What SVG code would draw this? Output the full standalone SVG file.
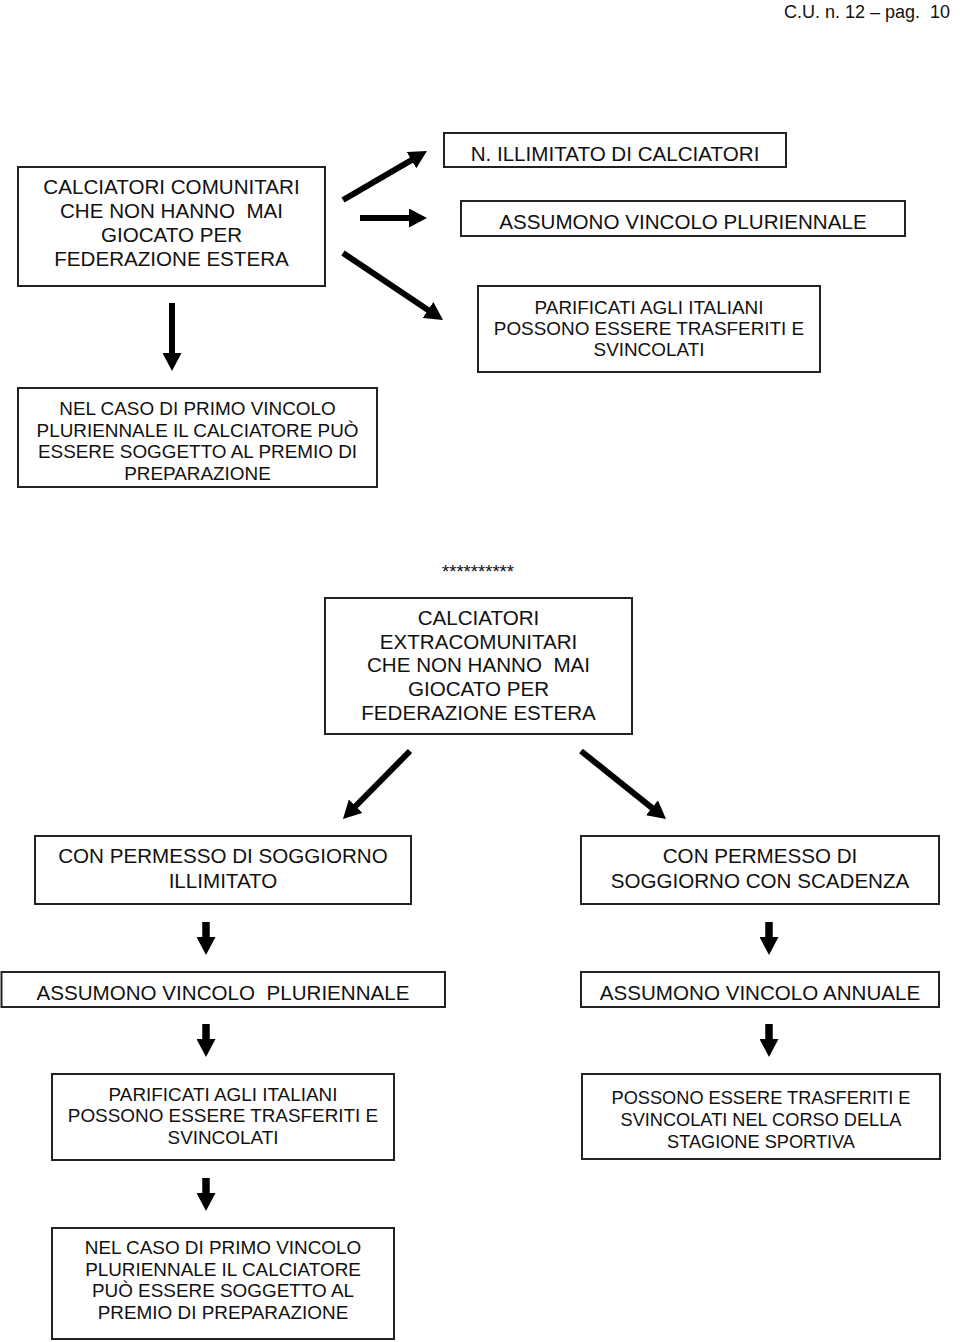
<svg xmlns="http://www.w3.org/2000/svg" width="960" height="1342" viewBox="0 0 960 1342">
  <style>
    .box { fill: #fff; stroke: #222; stroke-width: 2; }
    text { font-family: "Liberation Sans", Arial, sans-serif; fill: #111; text-anchor: middle; white-space: pre; }
    .t21 { font-size: 20.6px; }
    .t19 { font-size: 18.9px; }
    .t18 { font-size: 18.2px; }
    .arr { stroke: #000; fill: none; marker-end: url(#head); }
  </style>
  <defs>
    <marker id="head" markerUnits="userSpaceOnUse" markerWidth="18" markerHeight="19" refX="4" refY="9.5" orient="auto" viewBox="0 0 18 19">
      <path d="M0,0 L18,9.5 L0,19 z" fill="#000"/>
    </marker>
  </defs>
  <rect width="960" height="1342" fill="#fff"/>

  <text x="950" y="18" style="font-size:18px;text-anchor:end">C.U. n. 12 – pag.  10</text>

  <g id="comunitari">
    <rect class="box" x="18" y="167" width="307" height="119"/>
    <text class="t21" x="171.5" y="194">CALCIATORI COMUNITARI</text>
    <text class="t21" x="171.5" y="218">CHE NON HANNO  MAI</text>
    <text class="t21" x="171.5" y="242">GIOCATO PER</text>
    <text class="t21" x="171.5" y="266">FEDERAZIONE ESTERA</text>
  </g>
  <g id="illimitato">
    <rect class="box" x="444" y="133" width="342" height="34"/>
    <text class="t21" x="615" y="160.5">N. ILLIMITATO DI CALCIATORI</text>
  </g>
  <g id="vincolo-pluriennale-top">
    <rect class="box" x="461" y="201" width="444" height="35"/>
    <text class="t21" x="683" y="228.5">ASSUMONO VINCOLO PLURIENNALE</text>
  </g>
  <g id="parificati-top">
    <rect class="box" x="478" y="286" width="342" height="86"/>
    <text class="t19" x="649" y="314">PARIFICATI AGLI ITALIANI</text>
    <text class="t19" x="649" y="335">POSSONO ESSERE TRASFERITI E</text>
    <text class="t19" x="649" y="356">SVINCOLATI</text>
  </g>
  <g id="premio-top">
    <rect class="box" x="18" y="388" width="359" height="99"/>
    <text class="t19" x="197.5" y="415">NEL CASO DI PRIMO VINCOLO</text>
    <text class="t19" x="197.5" y="436.5">PLURIENNALE IL CALCIATORE PUÒ</text>
    <text class="t19" x="197.5" y="458">ESSERE SOGGETTO AL PREMIO DI</text>
    <text class="t19" x="197.5" y="480">PREPARAZIONE</text>
  </g>

  <text x="478" y="577.5" style="font-size:18.5px">**********</text>

  <g id="extracomunitari">
    <rect class="box" x="325" y="598" width="307" height="136"/>
    <text class="t21" x="478.5" y="625">CALCIATORI</text>
    <text class="t21" x="478.5" y="648.7">EXTRACOMUNITARI</text>
    <text class="t21" x="478.5" y="672.4">CHE NON HANNO  MAI</text>
    <text class="t21" x="478.5" y="696.1">GIOCATO PER</text>
    <text class="t21" x="478.5" y="719.8">FEDERAZIONE ESTERA</text>
  </g>
  <g id="permesso-illimitato">
    <rect class="box" x="35" y="836" width="376" height="68"/>
    <text class="t21" x="223" y="863">CON PERMESSO DI SOGGIORNO</text>
    <text class="t21" x="223" y="887.5">ILLIMITATO</text>
  </g>
  <g id="permesso-scadenza">
    <rect class="box" x="581" y="836" width="358" height="68"/>
    <text class="t21" x="760" y="863">CON PERMESSO DI</text>
    <text class="t21" x="760" y="887.5">SOGGIORNO CON SCADENZA</text>
  </g>
  <g id="vincolo-pluriennale">
    <rect class="box" x="1.5" y="972" width="443.5" height="35"/>
    <text class="t21" x="223" y="999.5">ASSUMONO VINCOLO  PLURIENNALE</text>
  </g>
  <g id="vincolo-annuale">
    <rect class="box" x="581" y="972" width="358" height="35"/>
    <text class="t21" x="760" y="999.5">ASSUMONO VINCOLO ANNUALE</text>
  </g>
  <g id="parificati">
    <rect class="box" x="52" y="1074" width="342" height="86"/>
    <text class="t19" x="223" y="1100.7">PARIFICATI AGLI ITALIANI</text>
    <text class="t19" x="223" y="1122.2">POSSONO ESSERE TRASFERITI E</text>
    <text class="t19" x="223" y="1143.7">SVINCOLATI</text>
  </g>
  <g id="trasferiti-stagione">
    <rect class="box" x="582" y="1074" width="358" height="85"/>
    <text class="t18" x="761" y="1104">POSSONO ESSERE TRASFERITI E</text>
    <text class="t18" x="761" y="1126">SVINCOLATI NEL CORSO DELLA</text>
    <text class="t18" x="761" y="1148">STAGIONE SPORTIVA</text>
  </g>
  <g id="premio">
    <rect class="box" x="52" y="1228" width="342" height="111"/>
    <text class="t19" x="223" y="1254">NEL CASO DI PRIMO VINCOLO</text>
    <text class="t19" x="223" y="1275.5">PLURIENNALE IL CALCIATORE</text>
    <text class="t19" x="223" y="1297">PUÒ ESSERE SOGGETTO AL</text>
    <text class="t19" x="223" y="1318.5">PREMIO DI PREPARAZIONE</text>
  </g>

  <g id="connectors">
    <line class="arr" stroke-width="6" x1="343" y1="200" x2="414.9" y2="158.1"/>
    <line class="arr" stroke-width="6" x1="360" y1="218" x2="413" y2="218"/>
    <line class="arr" stroke-width="6" x1="343" y1="253" x2="431.4" y2="312.2"/>
    <line class="arr" stroke-width="6" x1="172" y1="303" x2="172" y2="357"/>
    <line class="arr" stroke-width="6" x1="410" y1="751" x2="352.8" y2="809"/>
    <line class="arr" stroke-width="6" x1="581" y1="751" x2="655.1" y2="810.3"/>
    <line class="arr" stroke-width="7.5" x1="206" y1="922" x2="206" y2="941"/>
    <line class="arr" stroke-width="7.5" x1="206" y1="1024" x2="206" y2="1043"/>
    <line class="arr" stroke-width="7.5" x1="206" y1="1178" x2="206" y2="1197"/>
    <line class="arr" stroke-width="7.5" x1="769" y1="922" x2="769" y2="941"/>
    <line class="arr" stroke-width="7.5" x1="769" y1="1024" x2="769" y2="1043"/>
  </g>
</svg>
